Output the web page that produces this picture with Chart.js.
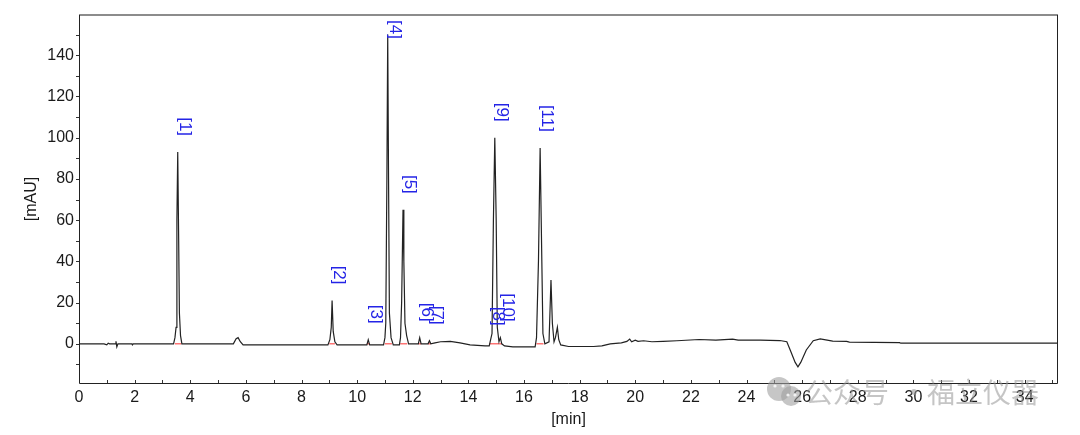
<!DOCTYPE html>
<html>
<head>
<meta charset="utf-8">
<script src="https://cdn.jsdelivr.net/npm/chart.js@4.4.1/dist/chart.umd.min.js"></script>
<style>
  html, body { margin: 0; padding: 0; background: #fff; }
  #wrap { width: 1080px; height: 435px; }
</style>
</head>
<body>
<div id="wrap"><canvas id="chrom" width="1080" height="435"></canvas></div>
<script>
// retention time [min] and detector signal [mAU]
const times = [
  0.0, 0.9, 1.0, 1.05, 1.1, 1.3, 1.33, 1.36, 1.4, 1.9, 1.92, 1.95,
  3.40, 3.45, 3.49, 3.52, 3.55, 3.58, 3.61, 3.65, 3.70,
  5.55, 5.65, 5.72, 5.80, 5.90,
  8.95, 9.02, 9.07, 9.10, 9.14, 9.20, 9.28,
  10.35, 10.40, 10.45,
  10.95, 11.00, 11.03, 11.07, 11.10, 11.13, 11.16, 11.22, 11.30,
  11.52, 11.56, 11.60, 11.65, 11.68, 11.72, 11.78, 11.85,
  12.20, 12.25, 12.30, 12.55, 12.60, 12.65, 12.80, 13.00, 13.35, 13.70, 14.06, 14.60,
  14.75, 14.80, 14.85, 14.90, 14.95, 15.00, 15.04, 15.10, 15.15, 15.20, 15.30, 15.60, 16.00,
  16.40, 16.45, 16.52, 16.58, 16.63, 16.68, 16.75,
  16.90, 16.97, 17.02, 17.08, 17.13, 17.20, 17.25, 17.32,
  17.60, 18.50, 18.80, 19.10, 19.50, 19.70, 19.80, 19.87, 20.00, 20.10, 20.30, 20.60,
  21.00, 21.50, 22.30, 22.90, 23.50, 23.70, 24.50, 25.20,
  25.45, 25.60, 25.75, 25.85, 25.95, 26.15, 26.40, 26.65, 26.90, 27.10,
  27.60, 27.70, 29.50, 29.55, 35.20
];
const signal = [
  0, 0, -0.5, 0.3, 0, 0, 1.2, -1.5, 0, 0, -0.5, 0,
  0, 3, 8, 60, 93, 55, 15, 4, 0,
  0, 2.5, 3, 1, -0.5,
  -0.5, 2, 8, 21, 6, 1, -0.5,
  -0.5, 2, -0.5,
  -0.5, 3, 10, 80, 150, 80, 15, 3, -0.5,
  -0.5, 3, 20, 65, 40, 10, 4, 0,
  0, 3, 0, 0, 1.5, 0, 0.5, 1, 1.2, 0.5, -0.5, -1,
  -1, 2, 5, 60, 100, 60, 8, 1, 3, 0, -1, -1.5, -1.5,
  -1.5, 3, 40, 95, 50, 5, 0,
  1, 31, 10, 1, 3, 8, 2, -0.5,
  -1.3, -1.3, -1, 0, 0.5, 1.2, 2.3, 1, 1.8, 1.2, 1.5, 1,
  1.2, 1.5, 2.1, 1.8, 2.3, 1.8, 1.8, 1.6,
  1, -4, -9, -11.2, -9, -3, 1.5, 2.4, 1.8, 1.3,
  1.2, 0.8, 0.6, 0.3, 0.3
];

// integrated peaks
const peakNames = ['[1]', '[2]', '[3]', '[4]', '[5]', '[6]', '[7]', '[8]', '[9]', '[10]', '[11]'];
const peakTimes = [3.55, 9.10, 10.40, 11.10, 11.65, 12.25, 12.60, 14.82, 14.95, 15.15, 16.58];
const peakHeights = [93, 21, 2, 150, 65, 3, 1.5, 1, 100, 3, 95];
const baseStarts = [3.45, 9.00, 10.35, 11.00, 11.55, 12.20, 12.55, 14.75, 14.85, 15.08, 16.45];
const baseEnds = [3.68, 9.20, 10.45, 11.25, 11.80, 12.30, 12.65, 14.85, 15.08, 15.20, 16.70];

const trace = times.map((t, i) => ({ x: t, y: signal[i] }));

// red baseline segments under each peak
const baseSegs = [];
baseStarts.forEach((s, i) => {
    baseSegs.push({ x: s, y: 0 });
    baseSegs.push({ x: baseEnds[i], y: 0 });
    baseSegs.push({ x: baseEnds[i], y: null });
});

const chromPlugin = {
    id: 'chromDecor',
    beforeDatasetsDraw(chart) {
        const ctx = chart.ctx;
        const a = chart.chartArea;
        const xs = chart.scales.x;
        const ys = chart.scales.y;
        ctx.save();
        ctx.strokeStyle = '#333';
        ctx.lineWidth = 1;
        // x ticks every minute, pointing up
        for (let t = 0; t <= 35; t++) {
            const px = Math.round(xs.getPixelForValue(t)) + 0.5;
            ctx.beginPath();
            ctx.moveTo(px, a.bottom);
            ctx.lineTo(px, a.bottom - 3);
            ctx.stroke();
        }
        // y ticks every 10 mAU, pointing left
        for (let v = -10; v <= 150; v += 10) {
            const py = Math.round(ys.getPixelForValue(v)) + 0.5;
            ctx.beginPath();
            ctx.moveTo(a.left, py);
            ctx.lineTo(a.left - 3, py);
            ctx.stroke();
        }
        ctx.restore();
    },
    afterDatasetsDraw(chart) {
        const ctx = chart.ctx;
        const a = chart.chartArea;
        const xs = chart.scales.x;
        const ys = chart.scales.y;
        ctx.save();
        // frame
        ctx.strokeStyle = '#8c8c8c';
        ctx.lineWidth = 2;
        ctx.beginPath();
        ctx.moveTo(a.left, a.top);
        ctx.lineTo(a.right, a.top);
        ctx.stroke();
        ctx.strokeStyle = '#222';
        ctx.lineWidth = 1;
        ctx.beginPath();
        ctx.moveTo(a.right - 0.5, a.top);
        ctx.lineTo(a.right - 0.5, a.bottom + 0.5);
        ctx.lineTo(a.left + 0.5, a.bottom + 0.5);
        ctx.lineTo(a.left + 0.5, a.top);
        ctx.stroke();

        // peak labels, rotated, ending just above the apex
        ctx.font = '17px Arial, "Liberation Sans", sans-serif';
        ctx.fillStyle = '#2424e6';
        ctx.textBaseline = 'middle';
        ctx.textAlign = 'left';
        peakNames.forEach((name, i) => {
            const px = xs.getPixelForValue(peakTimes[i]) + 7;
            const py = ys.getPixelForValue(peakHeights[i]);
            const w = ctx.measureText(name).width;
            let start = py - 16 - w;
            if (start < a.top + 5) start = a.top + 5;
            ctx.save();
            ctx.translate(px, start);
            ctx.rotate(Math.PI / 2);
            ctx.fillText(name, 0, 0);
            ctx.restore();
        });

        // watermark
        ctx.fillStyle = 'rgba(160,160,160,0.6)';
        ctx.beginPath();
        ctx.arc(779, 389, 12, 0, Math.PI * 2);
        ctx.fill();
        ctx.beginPath();
        ctx.arc(791, 396, 10, 0, Math.PI * 2);
        ctx.fill();
        ctx.fillStyle = 'rgba(255,255,255,0.8)';
        [[775, 386], [783, 386], [788, 395], [795, 395]].forEach(p => {
            ctx.beginPath();
            ctx.arc(p[0], p[1], 1.6, 0, Math.PI * 2);
            ctx.fill();
        });
        ctx.fillStyle = 'rgba(150,150,150,0.55)';
        ctx.font = '28px "Noto Sans CJK SC", sans-serif';
        ctx.textBaseline = 'middle';
        ctx.fillText('公众号', 805, 392);
        ctx.fillText('·', 900, 392);
        ctx.fillText('福立仪器', 927, 392);
        ctx.restore();
    }
};

const ctx = document.getElementById('chrom').getContext('2d');
new Chart(ctx, {
    type: 'line',
    data: {
        datasets: [{
            label: 'signal',
            data: trace,
            borderColor: '#222',
            borderWidth: 1.2,
            pointRadius: 0,
            tension: 0,
            fill: false
        }, {
            label: 'baseline',
            data: baseSegs,
            borderColor: '#ff3030',
            borderWidth: 1,
            pointRadius: 0,
            spanGaps: false,
            fill: false
        }]
    },
    options: {
        responsive: false,
        animation: false,
        events: [],
        layout: { padding: { top: 15, right: 22, left: 0, bottom: 0 } },
        plugins: {
            legend: { display: false },
            tooltip: { enabled: false }
        },
        scales: {
            x: {
                type: 'linear',
                min: 0,
                max: 35.2,
                grid: { display: false, drawTicks: false },
                border: { display: false },
                ticks: {
                    stepSize: 2,
                    includeBounds: false,
                    maxRotation: 0,
                    autoSkip: false,
                    padding: 5,
                    color: '#1a1a1a',
                    font: { family: 'Arial, "Liberation Sans", sans-serif', size: 16 }
                },
                afterBuildTicks: s => { s.ticks = s.ticks.filter(t => t.value <= 34); },
                afterFit: s => { s.height = 52; },
                title: {
                    display: true,
                    text: '[min]',
                    color: '#1a1a1a',
                    font: { family: 'Arial, "Liberation Sans", sans-serif', size: 16 },
                    padding: { top: 0, bottom: 6 }
                }
            },
            y: {
                type: 'linear',
                min: -19,
                max: 159.5,
                grid: { display: false, drawTicks: false },
                border: { display: false },
                ticks: {
                    stepSize: 20,
                    includeBounds: false,
                    autoSkip: false,
                    padding: 5,
                    color: '#1a1a1a',
                    font: { family: 'Arial, "Liberation Sans", sans-serif', size: 16 }
                },
                afterBuildTicks: s => { s.ticks = s.ticks.filter(t => t.value >= 0 && t.value <= 140); },
                afterFit: s => { s.width = 79; },
                title: {
                    display: true,
                    text: '[mAU]',
                    color: '#1a1a1a',
                    font: { family: 'Arial, "Liberation Sans", sans-serif', size: 16 },
                    padding: { top: 22, bottom: 0 }
                }
            }
        }
    },
    plugins: [chromPlugin]
});
</script>
</body>
</html>
